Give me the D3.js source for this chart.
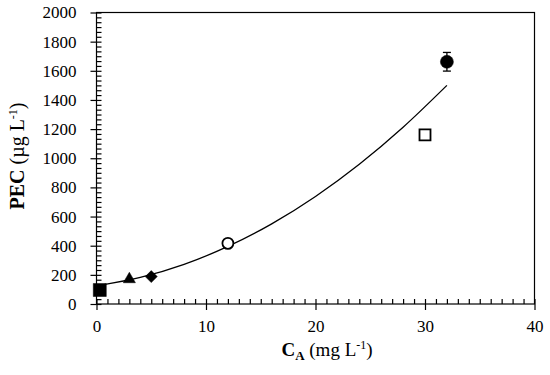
<!doctype html>
<html>
<head>
<script src="https://d3js.org/d3.v7.min.js"></script>
<style>
  body { margin: 0; background: #fff; }
  text { font-family: "Liberation Serif", "Times New Roman", serif; fill: #000; }
</style>
</head>
<body>
<svg id="chart" width="550" height="375"></svg>
<script>
// measured points (CA in mg/L, PEC in ug/L)
const pointX = [0.3, 3, 5, 12, 30, 32];
const pointY = [96, 170, 188, 416, 1160, 1662];
const pointErr = [0, 0, 0, 0, 0, 64];
const pointKind = ["filledSquare", "filledTriangle", "filledDiamond", "openCircle", "openSquare", "filledCircle"];

// trend line
const fitX = [0.3, 4, 8, 12, 16, 20, 24, 28, 32];
const fitY = [128, 182, 272, 395, 550, 738, 959, 1213, 1500];

const xTicks = [0, 10, 20, 30, 40];
const yTicks = [0, 200, 400, 600, 800, 1000, 1200, 1400, 1600, 1800, 2000];

const svg = d3.select("#chart");
const pLeft = 96.5, pRight = 534.5, pTop = 12.5, pBottom = 304;

const x = d3.scaleLinear().domain([0, 40]).range([pLeft, pRight]);
const y = d3.scaleLinear().domain([0, 2000]).range([pBottom, pTop]);

// frame
svg.append("rect")
  .attr("x", pLeft).attr("y", pTop)
  .attr("width", pRight - pLeft).attr("height", pBottom - pTop)
  .attr("fill", "none").attr("stroke", "#000").attr("stroke-width", 1.2);

// minor ticks (inside)
const xMinor = d3.range(0, 40.01, 1);
const yMinor = d3.range(0, 2000.01, 200 / 6);
svg.append("g").attr("transform", `translate(0,${pBottom})`)
  .call(d3.axisBottom(x).tickValues(xMinor).tickSize(-5).tickFormat(""))
  .call(g => g.select(".domain").remove())
  .selectAll("line").attr("stroke-width", 1.2);
svg.append("g").attr("transform", `translate(${pLeft},0)`)
  .call(d3.axisLeft(y).tickValues(yMinor).tickSize(-5).tickFormat(""))
  .call(g => g.select(".domain").remove())
  .selectAll("line").attr("stroke-width", 1.2);

// major ticks + labels (outside)
const xAxis = svg.append("g").attr("transform", `translate(0,${pBottom})`)
  .call(d3.axisBottom(x).tickValues(xTicks).tickFormat(d3.format("d"))
    .tickSizeInner(6).tickSizeOuter(0).tickPadding(10));
xAxis.select(".domain").remove();
xAxis.selectAll("line").attr("stroke-width", 1.2);
xAxis.selectAll("text").attr("font-size", 17).attr("font-family", "Liberation Serif");

const yAxis = svg.append("g").attr("transform", `translate(${pLeft},0)`)
  .call(d3.axisLeft(y).tickValues(yTicks).tickFormat(d3.format("d"))
    .tickSizeInner(6).tickSizeOuter(0).tickPadding(14));
yAxis.select(".domain").remove();
yAxis.selectAll("line").attr("stroke-width", 1.2);
yAxis.selectAll("text").attr("font-size", 17).attr("font-family", "Liberation Serif");

// trend curve
svg.append("path")
  .datum(fitX.map((d, i) => [d, fitY[i]]))
  .attr("fill", "none").attr("stroke", "#000").attr("stroke-width", 1.3)
  .attr("d", d3.line().x(d => x(d[0])).y(d => y(d[1])).curve(d3.curveMonotoneX));

// error bars
pointX.forEach((d, i) => {
  if (!pointErr[i]) return;
  const cx = x(d);
  const g = svg.append("g").attr("stroke", "#000").attr("stroke-width", 1.3);
  g.append("line").attr("x1", cx).attr("x2", cx)
    .attr("y1", y(pointY[i] - pointErr[i])).attr("y2", y(pointY[i] + pointErr[i]));
  [pointY[i] - pointErr[i], pointY[i] + pointErr[i]].forEach(v => {
    g.append("line").attr("x1", cx - 4).attr("x2", cx + 4).attr("y1", y(v)).attr("y2", y(v));
  });
});

// markers
const markerStyle = {
  filledSquare:   { type: d3.symbolSquare,   size: 169, fill: "#000", rot: 0 },
  filledTriangle: { type: d3.symbolTriangle, size: 64,  fill: "#000", rot: 0 },
  filledDiamond:  { type: d3.symbolSquare,   size: 72,  fill: "#000", rot: 45 },
  openCircle:     { type: d3.symbolCircle,   size: 95,  fill: "#fff", rot: 0 },
  openSquare:     { type: d3.symbolSquare,   size: 121, fill: "#fff", rot: 0 },
  filledCircle:   { type: d3.symbolCircle,   size: 133, fill: "#000", rot: 0 }
};
svg.append("g").selectAll("path.pt")
  .data(pointX.map((d, i) => ({ x: d, y: pointY[i], kind: pointKind[i] })))
  .join("path")
  .attr("class", "pt")
  .attr("transform", d => `translate(${x(d.x)},${y(d.y)}) rotate(${markerStyle[d.kind].rot})`)
  .attr("d", d => d3.symbol().type(markerStyle[d.kind].type).size(markerStyle[d.kind].size)())
  .attr("fill", d => markerStyle[d.kind].fill)
  .attr("stroke", "#000")
  .attr("stroke-width", d => markerStyle[d.kind].fill === "#fff" ? 1.8 : 0.5);

// axis titles
const xt = svg.append("text").attr("x", 327).attr("y", 356)
  .attr("text-anchor", "middle").attr("font-size", 19);
xt.append("tspan").attr("font-weight", "bold").text("C");
xt.append("tspan").attr("font-weight", "bold").attr("font-size", 13).attr("dy", 4).text("A");
xt.append("tspan").attr("dy", -4).text(" (mg L");
xt.append("tspan").attr("font-size", 12).attr("dy", -7).text("-1");
xt.append("tspan").attr("dy", 7).text(")");

const yt = svg.append("text")
  .attr("transform", "translate(24,156) rotate(-90)")
  .attr("text-anchor", "middle").attr("font-size", 20);
yt.append("tspan").attr("font-weight", "bold").text("PEC");
yt.append("tspan").text(" (µg L");
yt.append("tspan").attr("font-size", 12).attr("dy", -7).text("-1");
yt.append("tspan").attr("dy", 7).text(")");
</script>
</body>
</html>
